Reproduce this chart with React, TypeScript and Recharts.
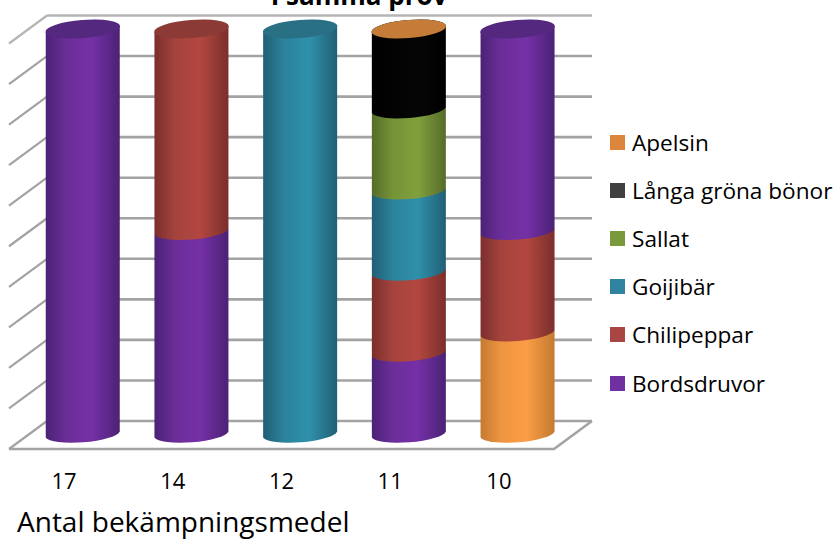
import React from "react";
import { BarChart, Bar, XAxis, YAxis, CartesianGrid } from "recharts";

const CATEGORIES = ["17", "14", "12", "11", "10"];
const Y_TICKS = [0, 10, 20, 30, 40, 50, 60, 70, 80, 90, 100];

// share of samples per stack layer, bottom to top; null = layer not in that column
const apelsin = [null, null, null, null, 25];
const bordsdruvor = [100, 50, null, 20, null];
const chilipeppar = [null, 50, null, 20, 25];
const goijibar = [null, null, 100, 20, null];
const sallat = [null, null, null, 20, null];
const langaBonor = [null, null, null, 20, null];
const bordsdruvorOvre = [null, null, null, null, 50];
const apelsinOvre = [null, null, null, 0, null];

const LEGEND_NAMES = ["Apelsin", "Långa gröna bönor", "Sallat", "Goijibär", "Chilipeppar", "Bordsdruvor"];
const LEGEND_COLORS = ["#dc853c", "#404040", "#7a993b", "#30849f", "#a94542", "#7030a0"];

const FONT = "'Open Sans', sans-serif";

const PALETTE: Record<string, { edge: string; side: string; mid: string; cap: string }> = {
  purple: { edge: "#4b2276", side: "#6b2e99", mid: "#7530a6", cap: "#55287f" },
  red: { edge: "#7a2f2c", side: "#a5433d", mid: "#b3473f", cap: "#8b3a35" },
  teal: { edge: "#215f75", side: "#2b829b", mid: "#2f90ab", cap: "#2a7085" },
  green: { edge: "#566c2a", side: "#759337", mid: "#80a03c", cap: "#5f7a30" },
  black: { edge: "#000000", side: "#030303", mid: "#060606", cap: "#000000" },
  orange: { edge: "#c47a30", side: "#ee9541", mid: "#fb9d46", cap: "#c47c38" },
};

const rows = CATEGORIES.map((name, i) => ({
  name,
  apelsin: apelsin[i],
  bordsdruvor: bordsdruvor[i],
  chilipeppar: chilipeppar[i],
  goijibar: goijibar[i],
  sallat: sallat[i],
  langaBonor: langaBonor[i],
  bordsdruvorOvre: bordsdruvorOvre[i],
  apelsinOvre: apelsinOvre[i],
}));

const SERIES = [
  { key: "apelsin", tone: "orange" },
  { key: "bordsdruvor", tone: "purple" },
  { key: "chilipeppar", tone: "red" },
  { key: "goijibar", tone: "teal" },
  { key: "sallat", tone: "green" },
  { key: "langaBonor", tone: "black" },
  { key: "bordsdruvorOvre", tone: "purple" },
  { key: "apelsinOvre", tone: "orange" },
];

const PLOT_TOP = 29;
const PLOT_BOTTOM = 434.5;
const TILT = 3;
const RY = 9;

// one stacked piece of a cylinder: body with a curved lower edge, lid on the top piece
function CylinderPiece(props: any) {
  const { x, y, width, height, payload, seriesKey, tone } = props;
  if (payload[seriesKey] == null) return null;
  const rx = width / 2 + 0.4;
  const yBottom = y + height;
  const body =
    `M${x},${y + TILT} L${x},${yBottom + TILT} ` +
    `A${rx},${RY} -4.6 0 0 ${x + width},${yBottom - TILT} L${x + width},${y - TILT} Z`;
  return (
    <g>
      {height > 0 && <path d={body} fill={`url(#body-${tone})`} />}
      {y <= PLOT_TOP + 0.5 && (
        <ellipse
          cx={x + width / 2}
          cy={y}
          rx={rx}
          ry={RY}
          transform={`rotate(-4.6 ${x + width / 2} ${y})`}
          fill={PALETTE[tone].cap}
        />
      )}
    </g>
  );
}

// back wall line plus the slanted side line; the lowest one also draws the floor
function WallLine(props: any) {
  const { x1, x2, y1, key } = props;
  const wallY = y1 - 13.5;
  const left = x1 + 18.25;
  const right = x2 + 19.75;
  const isFloor = y1 >= PLOT_BOTTOM - 1;
  const isTop = y1 <= PLOT_TOP + 1;
  const stroke = isTop ? "#b5b5b5" : "#a3a3a3";
  return (
    <g key={key} fill="none" stroke={stroke} strokeWidth={2.6}>
      <line x1={left} y1={wallY} x2={right} y2={wallY} />
      <line x1={left} y1={wallY} x2={9} y2={wallY + 28} strokeWidth={2.2} />
      {isFloor && (
        <polyline points={`9,${wallY + 28} 554,${wallY + 28} ${right},${wallY}`} />
      )}
    </g>
  );
}

function CategoryTick(props: any) {
  const { x, payload } = props;
  return (
    <text x={x - 19} y={489} textAnchor="middle" fontFamily={FONT} fontSize={22} fill="#000">
      {payload.value}
    </text>
  );
}

function LegendList() {
  return (
    <div style={{ position: "absolute", left: 610, top: 118, fontFamily: FONT, fontSize: 22.6, color: "#000" }}>
      {LEGEND_NAMES.map((name, i) => (
        <div key={name} style={{ display: "flex", alignItems: "center", height: 48.2, whiteSpace: "nowrap" }}>
          <span style={{ width: 15, height: 15, background: LEGEND_COLORS[i], marginRight: 7 }} />
          {name}
        </div>
      ))}
    </div>
  );
}

export default function App() {
  return (
    <div style={{ position: "absolute", left: 0, top: 0, width: 836, height: 540, overflow: "hidden", background: "#fff" }}>
      <BarChart
        width={836}
        height={540}
        data={rows}
        barSize={74}
        margin={{ top: PLOT_TOP, right: 263.75, bottom: 65.5, left: 28.75 }}
      >
        <defs>
          {Object.entries(PALETTE).map(([tone, c]) => (
            <linearGradient key={tone} id={`body-${tone}`} x1="0" y1="0" x2="1" y2="0">
              <stop offset="0%" stopColor={c.edge} />
              <stop offset="28%" stopColor={c.side} />
              <stop offset="62%" stopColor={c.mid} />
              <stop offset="100%" stopColor={c.edge} />
            </linearGradient>
          ))}
        </defs>
        <CartesianGrid vertical={false} horizontal={(p: any) => <WallLine {...p} />} />
        <XAxis dataKey="name" height={40} axisLine={false} tickLine={false} tick={<CategoryTick />} />
        <YAxis hide width={0} domain={[0, 100]} ticks={Y_TICKS} />
        {SERIES.map((s) => (
          <Bar
            key={s.key}
            dataKey={s.key}
            stackId="prov"
            isAnimationActive={false}
            shape={(p: any) => <CylinderPiece {...p} seriesKey={s.key} tone={s.tone} />}
          />
        ))}
      </BarChart>
      <LegendList />
      <div style={{ position: "absolute", left: 0, top: -22, width: 718, textAlign: "center", fontFamily: FONT, fontWeight: 700, fontSize: 26, lineHeight: "34px" }}>
        I samma prov
      </div>
      <div style={{ position: "absolute", left: 17, top: 503, fontFamily: FONT, fontSize: 28, lineHeight: "36px" }}>
        Antal bekämpningsmedel
      </div>
    </div>
  );
}
